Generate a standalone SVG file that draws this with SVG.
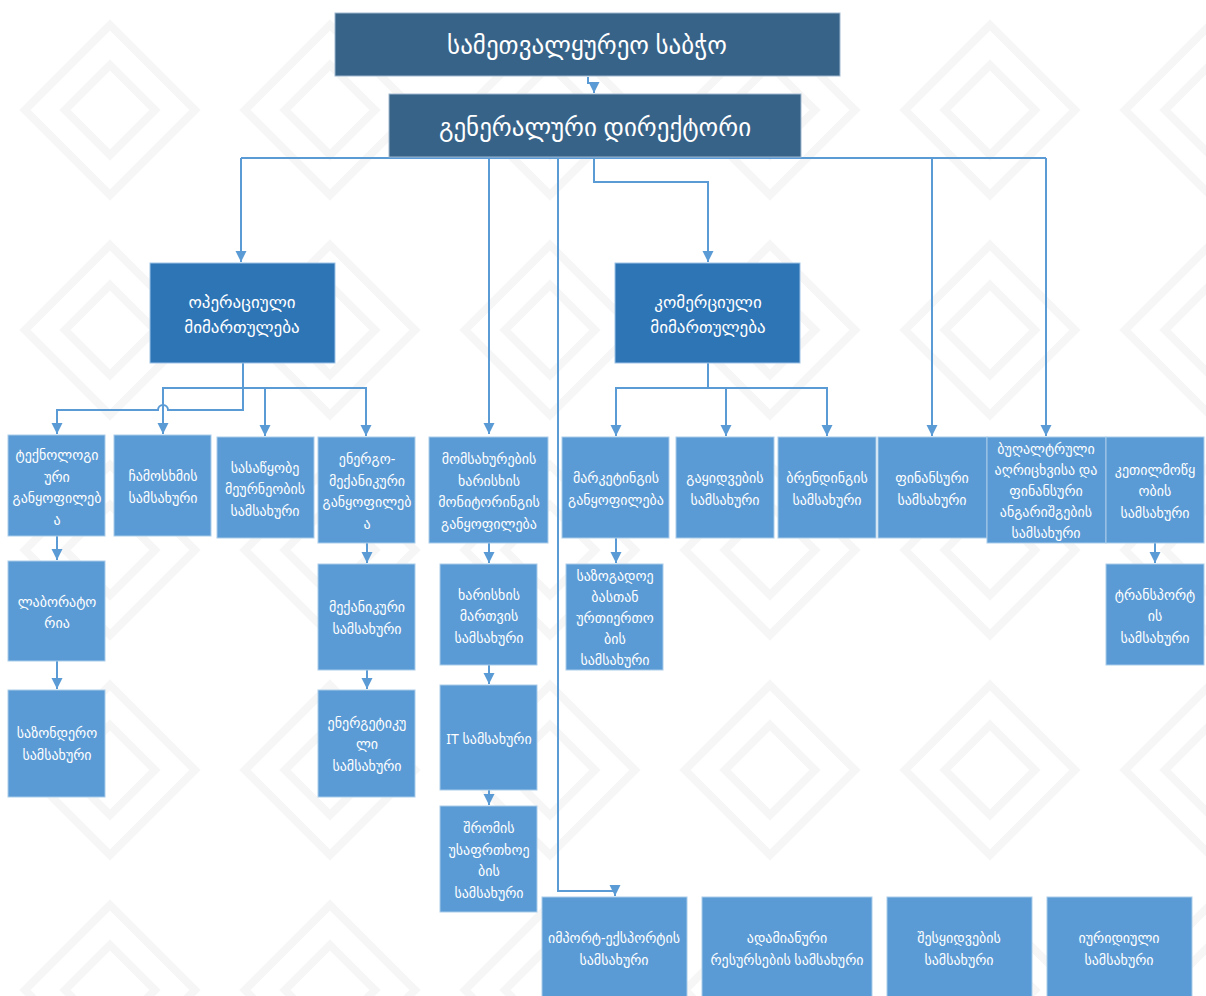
<svg xmlns="http://www.w3.org/2000/svg" width="1206" height="996" viewBox="0 0 1206 996">
<defs>
<style>
.dark{fill:#376389;stroke:#9fb8cf;stroke-width:1}
.mid{fill:#2e75b6;stroke:#9dc3e6;stroke-width:1}
.lt{fill:#5b9bd5;stroke:#a9cbea;stroke-width:1}
text{font-family:"Noto Sans","DejaVu Sans",sans-serif;fill:#ffffff;text-anchor:middle;dominant-baseline:central}
.t1{font-size:25px}
.t2{font-size:17px}
.t3{font-size:14px}
.c{fill:none;stroke:#5b9bd5;stroke-width:2;marker-end:url(#ah)}
.cn{fill:none;stroke:#5b9bd5;stroke-width:2}
.bg{fill:none;stroke:#f6f6f6;stroke-width:8}
</style>
<marker id="ah" markerUnits="userSpaceOnUse" markerWidth="12" markerHeight="12" refX="11" refY="6" orient="auto" viewBox="0 0 12 12">
<path d="M0,0.5 L11,6 L0,11.5 Z" fill="#5b9bd5"/>
</marker>
<pattern id="bgp" patternUnits="userSpaceOnUse" width="220" height="220">
<path class="bg" d="M110,25 L195,110 L110,195 L25,110 Z M110,65 L155,110 L110,155 L65,110 Z"/>
</pattern>
</defs>
<rect x="0" y="0" width="1206" height="996" fill="#ffffff"/>
<rect x="0" y="0" width="1206" height="996" fill="url(#bgp)"/>

<g id="connectors">
<path class="c" d="M588,77 V83 H594 V93"/>
<path class="cn" d="M241,158 H1046"/>
<path class="c" d="M241,158 V262"/>
<path class="c" d="M489,158 V434"/>
<path class="c" d="M558,158 V891 H615 V896"/>
<path class="c" d="M594,158 V182 H708 V262"/>
<path class="c" d="M932,158 V436"/>
<path class="c" d="M1046,158 V436"/>
<path class="c" d="M243,363 V410 H168 A5,5 0 0 0 158,410 H57 V434"/>
<path class="c" d="M243,388 H163 V434"/>
<path class="c" d="M243,388 H366 V436"/>
<path class="c" d="M265,388 V436"/>
<path class="c" d="M57,536 V560"/>
<path class="c" d="M57,661 V689"/>
<path class="c" d="M367,543 V563"/>
<path class="c" d="M367,670 V689"/>
<path class="c" d="M489,543 V563"/>
<path class="c" d="M489,665 V684"/>
<path class="c" d="M489,790 V805"/>
<path class="c" d="M708,363 V388 H616 V436"/>
<path class="c" d="M708,388 H827 V436"/>
<path class="c" d="M726,388 V436"/>
<path class="c" d="M616,538 V563"/>
<path class="c" d="M1155,543 V563"/>
</g>

<g id="board"><rect class="dark" x="335" y="13" width="505" height="63"/><text class="t1" x="587" y="44">სამეთვალყურეო საბჭო</text></g>
<g id="gendir"><rect class="dark" x="389" y="94" width="412" height="63"/><text class="t1" x="595" y="126">გენერალური დირექტორი</text></g>
<g id="ops"><rect class="mid" x="150" y="263" width="185" height="100"/><text class="t2" x="242" y="313"><tspan x="242" dy="-12">ოპერაციული</tspan><tspan x="242" dy="25">მიმართულება</tspan></text></g>
<g id="com"><rect class="mid" x="615" y="263" width="185" height="100"/><text class="t2" x="708" y="313"><tspan x="708" dy="-12">კომერციული</tspan><tspan x="708" dy="25">მიმართულება</tspan></text></g>

<g id="tech"><rect class="lt" x="8" y="435" width="97" height="101"/><text class="t3" x="57" y="486"><tspan x="57" dy="-32">ტექნოლოგი</tspan><tspan x="57" dy="21.5">ური</tspan><tspan x="57" dy="21.5">განყოფილებ</tspan><tspan x="57" dy="21.5">ა</tspan></text></g>
<g id="cast"><rect class="lt" x="114" y="435" width="97" height="101"/><text class="t3" x="163" y="486"><tspan x="163" dy="-11">ჩამოსხმის</tspan><tspan x="163" dy="22">სამსახური</tspan></text></g>
<g id="ware"><rect class="lt" x="217" y="437" width="97" height="101"/><text class="t3" x="265" y="488"><tspan x="265" dy="-21.5">სასაწყობე</tspan><tspan x="265" dy="21.5">მეურნეობის</tspan><tspan x="265" dy="21.5">სამსახური</tspan></text></g>
<g id="energo"><rect class="lt" x="318" y="437" width="97" height="106"/><text class="t3" x="367" y="490"><tspan x="367" dy="-32">ენერგო-</tspan><tspan x="367" dy="21.5">მექანიკური</tspan><tspan x="367" dy="21.5">განყოფილებ</tspan><tspan x="367" dy="21.5">ა</tspan></text></g>
<g id="monitor"><rect class="lt" x="429" y="437" width="119" height="106"/><text class="t3" x="489" y="490"><tspan x="489" dy="-32">მომსახურების</tspan><tspan x="489" dy="21.5">ხარისხის</tspan><tspan x="489" dy="21.5">მონიტორინგის</tspan><tspan x="489" dy="21.5">განყოფილება</tspan></text></g>
<g id="market"><rect class="lt" x="562" y="437" width="107" height="101"/><text class="t3" x="616" y="488"><tspan x="616" dy="-11">მარკეტინგის</tspan><tspan x="616" dy="22">განყოფილება</tspan></text></g>
<g id="sales"><rect class="lt" x="676" y="437" width="98" height="101"/><text class="t3" x="725" y="488"><tspan x="725" dy="-11">გაყიდვების</tspan><tspan x="725" dy="22">სამსახური</tspan></text></g>
<g id="brand"><rect class="lt" x="778" y="437" width="98" height="101"/><text class="t3" x="827" y="488"><tspan x="827" dy="-11">ბრენდინგის</tspan><tspan x="827" dy="22">სამსახური</tspan></text></g>
<g id="finance"><rect class="lt" x="878" y="437" width="109" height="101"/><text class="t3" x="932" y="488"><tspan x="932" dy="-11">ფინანსური</tspan><tspan x="932" dy="22">სამსახური</tspan></text></g>
<g id="account"><rect class="lt" x="987" y="437" width="119" height="106"/><text class="t3" x="1046" y="490"><tspan x="1046" dy="-42">ბუღალტრული</tspan><tspan x="1046" dy="21">აღრიცხვისა და</tspan><tspan x="1046" dy="21">ფინანსური</tspan><tspan x="1046" dy="21">ანგარიშგების</tspan><tspan x="1046" dy="21">სამსახური</tspan></text></g>
<g id="amen"><rect class="lt" x="1106" y="437" width="98" height="106"/><text class="t3" x="1155" y="490"><tspan x="1155" dy="-21.5">კეთილმოწყ</tspan><tspan x="1155" dy="21.5">ობის</tspan><tspan x="1155" dy="21.5">სამსახური</tspan></text></g>

<g id="lab"><rect class="lt" x="8" y="561" width="97" height="100"/><text class="t3" x="57" y="611"><tspan x="57" dy="-10">ლაბორატო</tspan><tspan x="57" dy="21">რია</tspan></text></g>
<g id="mech"><rect class="lt" x="318" y="564" width="97" height="106"/><text class="t3" x="367" y="617"><tspan x="367" dy="-11">მექანიკური</tspan><tspan x="367" dy="22">სამსახური</tspan></text></g>
<g id="quality"><rect class="lt" x="440" y="564" width="97" height="101"/><text class="t3" x="489" y="615"><tspan x="489" dy="-21.5">ხარისხის</tspan><tspan x="489" dy="21.5">მართვის</tspan><tspan x="489" dy="21.5">სამსახური</tspan></text></g>
<g id="pr"><rect class="lt" x="566" y="564" width="97" height="106"/><text class="t3" x="615" y="617"><tspan x="615" dy="-42">საზოგადოე</tspan><tspan x="615" dy="21">ბასთან</tspan><tspan x="615" dy="21">ურთიერთო</tspan><tspan x="615" dy="21">ბის</tspan><tspan x="615" dy="21">სამსახური</tspan></text></g>
<g id="transport"><rect class="lt" x="1106" y="564" width="98" height="101"/><text class="t3" x="1155" y="615"><tspan x="1155" dy="-21.5">ტრანსპორტ</tspan><tspan x="1155" dy="21.5">ის</tspan><tspan x="1155" dy="21.5">სამსახური</tspan></text></g>

<g id="sazond"><rect class="lt" x="8" y="690" width="97" height="107"/><text class="t3" x="57" y="743"><tspan x="57" dy="-11">საზონდერო</tspan><tspan x="57" dy="22">სამსახური</tspan></text></g>
<g id="energy"><rect class="lt" x="318" y="690" width="97" height="107"/><text class="t3" x="367" y="743"><tspan x="367" dy="-21.5">ენერგეტიკუ</tspan><tspan x="367" dy="21.5">ლი</tspan><tspan x="367" dy="21.5">სამსახური</tspan></text></g>
<g id="it"><rect class="lt" x="440" y="685" width="97" height="105"/><text class="t3" x="489" y="738">IT სამსახური</text></g>
<g id="safety"><rect class="lt" x="440" y="806" width="97" height="106"/><text class="t3" x="489" y="859"><tspan x="489" dy="-32">შრომის</tspan><tspan x="489" dy="21.5">უსაფრთხოე</tspan><tspan x="489" dy="21.5">ბის</tspan><tspan x="489" dy="21.5">სამსახური</tspan></text></g>

<g id="impexp"><rect class="lt" x="542" y="897" width="145" height="105"/><text class="t3" x="614" y="948"><tspan x="614" dy="-11">იმპორტ-ექსპორტის</tspan><tspan x="614" dy="22">სამსახური</tspan></text></g>
<g id="hr"><rect class="lt" x="702" y="897" width="170" height="105"/><text class="t3" x="787" y="948"><tspan x="787" dy="-11">ადამიანური</tspan><tspan x="787" dy="22">რესურსების სამსახური</tspan></text></g>
<g id="procure"><rect class="lt" x="887" y="897" width="145" height="105"/><text class="t3" x="959" y="948"><tspan x="959" dy="-11">შესყიდვების</tspan><tspan x="959" dy="22">სამსახური</tspan></text></g>
<g id="legal"><rect class="lt" x="1047" y="897" width="145" height="105"/><text class="t3" x="1119" y="948"><tspan x="1119" dy="-11">იურიდიული</tspan><tspan x="1119" dy="22">სამსახური</tspan></text></g>
</svg>
